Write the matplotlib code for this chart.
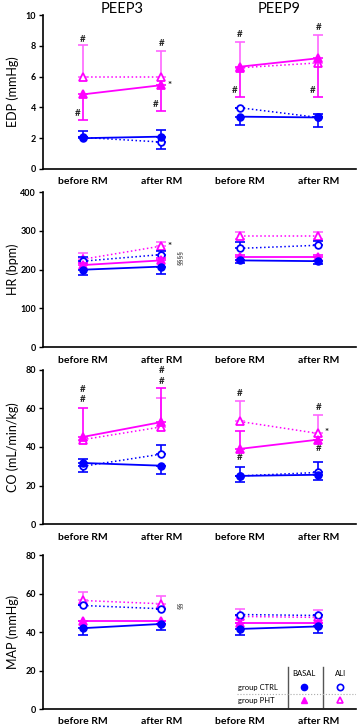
import matplotlib
matplotlib.use("Agg")
import matplotlib.pyplot as plt
from matplotlib.lines import Line2D
import numpy as np

plt.rcParams['font.family'] = ['Lato', 'DejaVu Sans']

# ---------------- data ----------------
x_labels = ["before RM", "after RM", "before RM", "after RM"]
titles = ["PEEP3", "PEEP9"]
ylabels = ["EDP (mmHg)", "HR (bpm)", "CO (mL/min/kg)", "MAP (mmHg)"]
ylims = [(0, 10), (0, 400), (0, 80), (0, 80)]
yticks = [[0, 2, 4, 6, 8, 10], [0, 100, 200, 300, 400], [0, 20, 40, 60, 80], [0, 20, 40, 60, 80]]

# EDP
edp_ctrl_basal = [2.0, 2.1, 3.4, 3.35]
edp_ctrl_basal_lo = [0.0, 0.0, 0.55, 0.0]
edp_ctrl_basal_hi = [0.45, 0.45, 0.0, 0.2]
edp_ctrl_ali = [2.05, 1.75, 3.98, 3.35]
edp_ctrl_ali_lo = [0.0, 0.45, 0.0, 0.65]
edp_ctrl_ali_hi = [0.0, 0.0, 0.0, 0.0]
edp_pht_basal = [4.85, 5.45, 6.65, 7.2]
edp_pht_basal_lo = [1.65, 1.65, 1.95, 2.55]
edp_pht_basal_hi = [0.0, 0.0, 0.0, 0.0]
edp_pht_ali = [6.0, 6.0, 6.58, 6.9]
edp_pht_ali_lo = [0.0, 0.0, 0.0, 0.0]
edp_pht_ali_hi = [2.05, 1.7, 1.69, 1.8]

# HR
hr_ctrl_basal = [200, 208, 224, 222]
hr_ctrl_basal_lo = [14, 19, 8, 8]
hr_ctrl_basal_hi = [0, 0, 0, 0]
hr_ctrl_ali = [222, 239, 255, 263]
hr_ctrl_ali_lo = [0, 0, 0, 0]
hr_ctrl_ali_hi = [12, 10, 17, 10]
hr_pht_basal = [212, 224, 233, 233]
hr_pht_basal_lo = [0, 0, 0, 0]
hr_pht_basal_hi = [5, 5, 6, 6]
hr_pht_ali = [227, 261, 288, 288]
hr_pht_ali_lo = [0, 0, 8, 8]
hr_pht_ali_hi = [16, 11, 8, 8]

# CO
co_ctrl_basal = [31.7, 30.3, 25.0, 25.6]
co_ctrl_basal_lo = [0, 4.4, 3.0, 2.6]
co_ctrl_basal_hi = [2.0, 0, 0, 0]
co_ctrl_ali = [30.0, 36.3, 25.0, 26.8]
co_ctrl_ali_lo = [3.2, 0, 0, 0]
co_ctrl_ali_hi = [0, 4.7, 4.4, 5.2]
co_pht_basal = [45.2, 52.9, 39.0, 43.8]
co_pht_basal_lo = [0, 0, 0, 0]
co_pht_basal_hi = [14.8, 17.5, 9.5, 0]
co_pht_ali = [43.8, 50.4, 53.2, 47.0]
co_pht_ali_lo = [0, 0, 0, 0]
co_pht_ali_hi = [0, 14.8, 10.6, 9.3]

# MAP
map_ctrl_basal = [42.1, 44.3, 41.7, 43.0]
map_ctrl_basal_lo = [3.8, 3.1, 3.1, 3.3]
map_ctrl_basal_hi = [0, 0, 0, 0]
map_ctrl_ali = [53.9, 52.2, 49.2, 48.7]
map_ctrl_ali_lo = [0, 0, 0, 0]
map_ctrl_ali_hi = [0, 0, 0, 0]
map_pht_basal = [45.6, 45.6, 44.9, 44.9]
map_pht_basal_lo = [0, 0, 0, 0]
map_pht_basal_hi = [0, 0, 0, 0]
map_pht_ali = [56.5, 54.8, 48.2, 47.7]
map_pht_ali_lo = [0, 0, 0, 0]
map_pht_ali_hi = [4.4, 4.0, 4.0, 4.0]

# annotations (x position, y value, text)
edp_notes = [(0, 8.45, "#"), (-0.07, 3.6, "#"), (1, 8.15, "#"), (0.93, 4.2, "#"), (1.1, 5.45, "*"),
             (2, 8.75, "#"), (1.93, 5.1, "#"), (3, 9.2, "#"), (2.93, 5.1, "#")]
hr_notes = [(1.1, 261, "*")]
co_notes = [(0, 70, "#"), (0, 64.5, "#"), (1, 79.5, "#"), (1, 73.7, "#"),
            (2, 67.8, "#"), (2, 34.6, "#"), (3, 60.3, "#"), (3, 39.0, "#"), (3.11, 47.3, "*")]
map_notes = []
sect_notes = [None, (1.24, 231, "§§§§"), None, (1.24, 54, "§§")]

panels = [
    (edp_ctrl_basal, edp_ctrl_basal_lo, edp_ctrl_basal_hi, edp_ctrl_ali, edp_ctrl_ali_lo, edp_ctrl_ali_hi,
     edp_pht_basal, edp_pht_basal_lo, edp_pht_basal_hi, edp_pht_ali, edp_pht_ali_lo, edp_pht_ali_hi, edp_notes),
    (hr_ctrl_basal, hr_ctrl_basal_lo, hr_ctrl_basal_hi, hr_ctrl_ali, hr_ctrl_ali_lo, hr_ctrl_ali_hi,
     hr_pht_basal, hr_pht_basal_lo, hr_pht_basal_hi, hr_pht_ali, hr_pht_ali_lo, hr_pht_ali_hi, hr_notes),
    (co_ctrl_basal, co_ctrl_basal_lo, co_ctrl_basal_hi, co_ctrl_ali, co_ctrl_ali_lo, co_ctrl_ali_hi,
     co_pht_basal, co_pht_basal_lo, co_pht_basal_hi, co_pht_ali, co_pht_ali_lo, co_pht_ali_hi, co_notes),
    (map_ctrl_basal, map_ctrl_basal_lo, map_ctrl_basal_hi, map_ctrl_ali, map_ctrl_ali_lo, map_ctrl_ali_hi,
     map_pht_basal, map_pht_basal_lo, map_pht_basal_hi, map_pht_ali, map_pht_ali_lo, map_pht_ali_hi, map_notes),
]

BLUE = "#0000ff"
MAG = "#ff00ff"
MAG_L = "#ff66ff"

fig = plt.figure(figsize=(3.58, 7.25), dpi=100)
rects = [(0.120, 0.767, 0.874, 0.212), (0.120, 0.521, 0.874, 0.214),
         (0.120, 0.277, 0.874, 0.213), (0.120, 0.022, 0.874, 0.212)]

xs = np.arange(4)


def draw_series(ax, vals, lo, hi, color, ecolor, marker, filled, ls, z):
    vals = np.asarray(vals, float)
    for seg in (slice(0, 2), slice(2, 4)):
        ax.plot(xs[seg], vals[seg], ls=ls, color=color, lw=1.3 if ls == '-' else 1.1, zorder=z)
    ax.errorbar(xs, vals, yerr=[lo, hi], fmt='none', ecolor=ecolor, elinewidth=1.2,
                capsize=3.5, capthick=1.2, zorder=z)
    ax.plot(xs, vals, ls='none', marker=marker, ms=4.8 if marker == 'o' else 5.3,
            mfc=color if filled else 'white', mec=color, mew=1.3, zorder=z + 1)


for i, (rect, p) in enumerate(zip(rects, panels)):
    ax = fig.add_axes(rect)
    (cb, cbl, cbh, ca, cal, cah, pb, pbl, pbh, pa, pal, pah, notes) = p
    draw_series(ax, pa, pal, pah, MAG, MAG_L, '^', False, ':', 3)
    draw_series(ax, ca, cal, cah, BLUE, BLUE, 'o', False, ':', 4)
    draw_series(ax, pb, pbl, pbh, MAG, MAG, '^', True, '-', 5)
    draw_series(ax, cb, cbl, cbh, BLUE, BLUE, 'o', True, '-', 6)
    for (nx, ny, t) in notes:
        ax.text(nx, ny, t, ha='center', va='center', fontsize=7, fontweight='bold', color='#222222')
    if sect_notes[i] is not None:
        sx, sy, st = sect_notes[i]
        ax.text(sx, sy, st, ha='center', va='center', rotation=90, fontsize=5.5, color='#333333')

    ax.set_xlim(-0.51, 3.48)
    ax.set_ylim(*ylims[i])
    ax.set_yticks(yticks[i])
    ax.set_xticks(xs)
    ax.set_xticklabels(x_labels, fontsize=7.5, fontweight='bold')
    ax.tick_params(axis='x', length=0, pad=6)
    ax.tick_params(axis='y', labelsize=6.5, length=3, width=1, direction='out', pad=2)
    for lab in ax.get_yticklabels():
        lab.set_fontweight('bold')
    ax.spines['top'].set_visible(False)
    ax.spines['right'].set_visible(False)
    ax.spines['left'].set_linewidth(1.2)
    ax.spines['bottom'].set_linewidth(1.2)
    ax.set_ylabel(ylabels[i], fontsize=9)
    ax.yaxis.set_label_coords(-0.075, 0.5)
    if i == 0:
        for k, t in enumerate(titles):
            xf = ax.transData.transform((0.5 + 2 * k, 0))[0] / fig.bbox.width
            fig.text(xf, 0.997, t, ha='center', va='top', fontsize=10.5)
    if i == 3:
        # legend table
        tx = ax.transAxes
        col1, col2 = 0.835, 0.95
        r0, r1, r2 = 0.234, 0.143, 0.058
        ax.add_line(Line2D([0.783, 0.783], [0.013, 0.273], transform=tx, color='#555555', lw=1))
        ax.add_line(Line2D([0.895, 0.895], [0.013, 0.273], transform=tx, color='#555555', lw=1))
        ax.add_line(Line2D([0.62, 1.0], [0.10, 0.10], transform=tx, color='#aaaaaa', lw=0.8, ls=':'))
        ax.text(col1, r0, "BASAL", transform=tx, ha='center', va='center', fontsize=5.5)
        ax.text(col2, r0, "ALI", transform=tx, ha='center', va='center', fontsize=5.5)
        ax.text(0.623, r1, "group CTRL", transform=tx, ha='left', va='center', fontsize=5.5)
        ax.text(0.623, r2, "group PHT", transform=tx, ha='left', va='center', fontsize=5.5)
        ax.plot([col1], [r1], transform=tx, marker='o', ms=4.5, mfc=BLUE, mec=BLUE, ls='none', clip_on=False)
        ax.plot([col2], [r1], transform=tx, marker='o', ms=4.5, mfc='white', mec=BLUE, mew=1.2, ls='none', clip_on=False)
        ax.plot([col1], [r2], transform=tx, marker='^', ms=5, mfc=MAG, mec=MAG, ls='none', clip_on=False)
        ax.plot([col2], [r2], transform=tx, marker='^', ms=5, mfc='white', mec=MAG, mew=1.2, ls='none', clip_on=False)

fig.savefig("out.png", dpi=100)
